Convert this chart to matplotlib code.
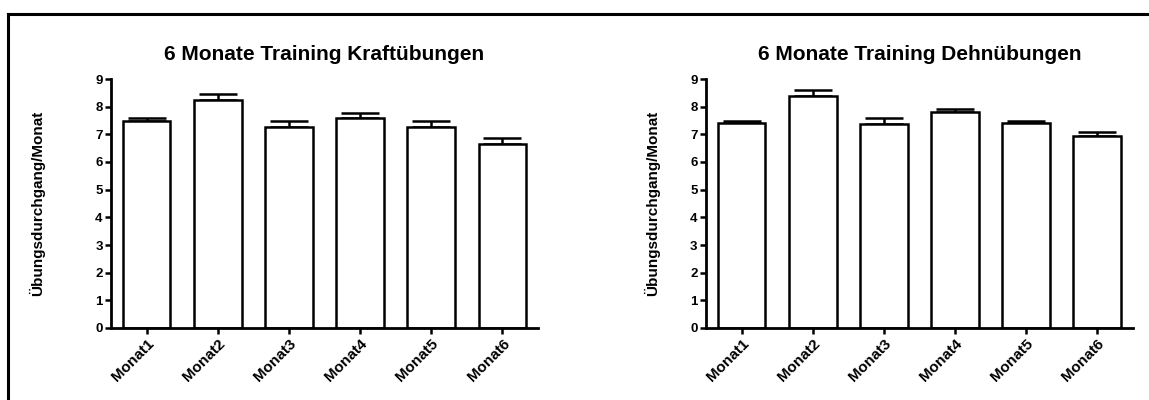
import matplotlib
matplotlib.use('Agg')
import matplotlib.pyplot as plt
from matplotlib.lines import Line2D
import numpy as np

# data
monate = ['Monat1', 'Monat2', 'Monat3', 'Monat4', 'Monat5', 'Monat6']
kraft_mean = [7.5, 8.25, 7.25, 7.6, 7.27, 6.65]
kraft_err = [0.1, 0.22, 0.25, 0.18, 0.2, 0.22]
dehn_mean = [7.42, 8.37, 7.38, 7.8, 7.4, 6.95]
dehn_err = [0.08, 0.22, 0.2, 0.12, 0.1, 0.12]
titles = ['6 Monate Training Kraftübungen', '6 Monate Training Dehnübungen']
ylabel = 'Übungsdurchgang/Monat'

plt.rcParams['font.family'] = ['Liberation Sans', 'DejaVu Sans']
plt.rcParams['font.weight'] = 'bold'

fig = plt.figure(figsize=(11.49, 4.0), dpi=100)
ax1 = fig.add_axes([0.0966, 0.18, 0.3716, 0.6225])
ax2 = fig.add_axes([0.6144, 0.18, 0.3716, 0.6225])

# outer frame (top and left only visible)
fig.add_artist(Line2D([8 / 1149, 1.0], [1 - 14 / 400, 1 - 14 / 400], color='black', lw=2.2))
fig.add_artist(Line2D([8 / 1149, 8 / 1149], [0.0, 1 - 14 / 400], color='black', lw=2.2))


def draw(ax, means, errs, title, lab_x):
    x = np.arange(len(monate))
    ax.bar(x, means, width=0.67, color='white', edgecolor='black', linewidth=1.8, zorder=2)
    ax.errorbar(x, means, yerr=[np.zeros(len(errs)), errs], fmt='none', ecolor='black',
                elinewidth=1.8, capsize=14, capthick=1.8, zorder=1)
    ax.set_xlim(-0.5, 5.5)
    ax.set_ylim(0, 9)
    ax.set_yticks(range(10))
    ax.set_xticks(x)
    ax.set_xticklabels(monate, rotation=45, ha='right', rotation_mode='anchor',
                       fontsize=11, fontweight='bold')
    for t in ax.get_yticklabels():
        t.set_fontsize(9.5)
        t.set_fontweight('bold')
    ax.spines['top'].set_visible(False)
    ax.spines['right'].set_visible(False)
    ax.spines['left'].set_linewidth(2)
    ax.spines['bottom'].set_linewidth(2)
    ax.tick_params(axis='both', direction='out', length=4, width=1.8, pad=2)
    ax.set_title(title, fontsize=15, fontweight='bold', pad=13.5)
    ax.set_ylabel(ylabel, fontsize=11, fontweight='bold')
    ax.yaxis.set_label_coords(lab_x, 0.5)


draw(ax1, kraft_mean, kraft_err, titles[0], -0.155)
draw(ax2, dehn_mean, dehn_err, titles[1], -0.108)

fig.savefig('out.png', dpi=100)
